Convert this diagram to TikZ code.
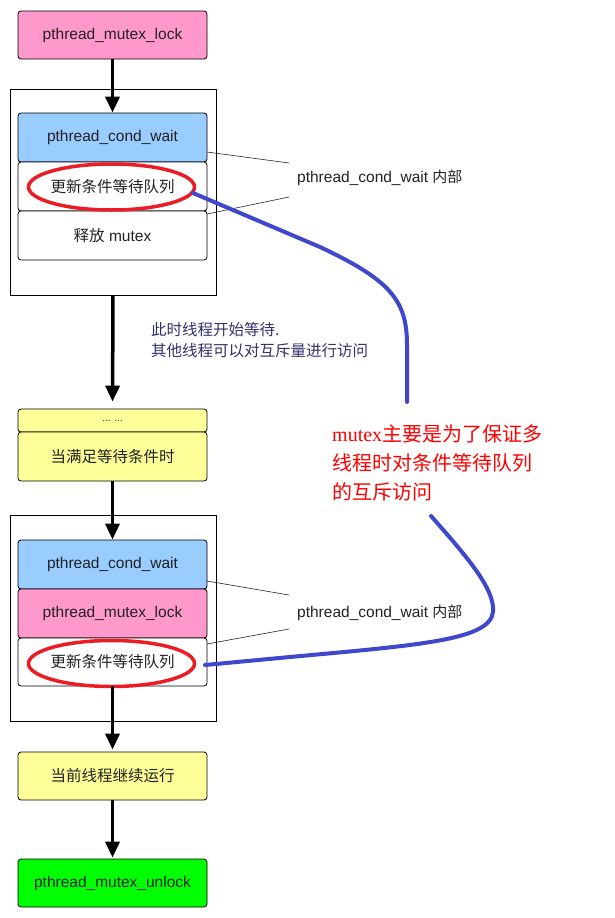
\documentclass[tikz,border=0pt]{standalone}
\usepackage{fontspec}
\setmainfont{Liberation Sans}
\newfontfamily\cjk{Noto Sans CJK SC}
\newfontfamily\serifl{Liberation Serif}
\usetikzlibrary{arrows.meta,shapes.geometric}
\definecolor{pinkc}{HTML}{FF99CC}
\definecolor{bluec}{HTML}{99CCFF}
\definecolor{yellowc}{HTML}{FFFF99}
\definecolor{greenc}{HTML}{00FF00}
\definecolor{redc}{HTML}{ED1C24}
\definecolor{linec}{HTML}{3F48CC}
\definecolor{navyc}{RGB}{50,50,110}
\definecolor{txtc}{HTML}{222222}
\begin{document}
\begin{tikzpicture}[x=1pt,y=-1pt,
  box/.style={draw=black, line width=0.8pt, rounded corners=3pt, minimum width=189pt,
    minimum height=49pt, inner sep=0pt, text=txtc, font=\fontsize{15.5}{18}\selectfont},
  frame/.style={draw=black, line width=0.8pt, minimum width=206pt, minimum height=206pt, inner sep=0pt},
  flow/.style={line width=3.5pt, -{Triangle[width=14pt,length=16pt]}},
  leader/.style={line width=0.6pt, draw=black!85},
  ring/.style={draw=redc, line width=3.5pt, ellipse, minimum width=166pt, minimum height=46pt, inner sep=0pt},
  link/.style={draw=linec, line width=4pt, line cap=round},
  zh/.style={font=\cjk\fontsize{15.5}{18}\selectfont}
]
\fill[white] (0,0) rectangle (615,918);
\useasboundingbox (0,0) rectangle (615,918);

% top
\node[box, fill=pinkc, minimum height=48pt] (lock1) at (112.5,35) {pthread\_mutex\_lock};

% frame 1
\node[frame] (outer1) at (113,192) {};
\node[box, fill=bluec] (cw1) at (112.5,137.5) {pthread\_cond\_wait};
\node[box, fill=white, zh] (upd1) at (112.5,186.5) {更新条件等待队列};
\node[box, fill=white] (rel1) at (112.5,235.5) {{\cjk\fontsize{15.5}{18}\selectfont 释放} mutex};
\node[ring] (e1) at (111.5,187) {};

% leader lines 1
\node[anchor=west, inner sep=0pt, text=txtc, font=\fontsize{15.5}{18}\selectfont] (in1) at (297,178) {pthread\_cond\_wait {\cjk\fontsize{15}{18}\selectfont 内部}};
\coordinate (a1) at (207,152);
\coordinate (b1) at (289,163);
\coordinate (a2) at (207,214);
\coordinate (b2) at (289,197);
\draw[leader] (a1) -- (b1);
\draw[leader] (a2) -- (b2);

% waiting text
\node[anchor=west, align=left, inner sep=0pt, text=navyc, font=\cjk\fontsize{15.5}{21}\selectfont] (wait) at (151,340) {此时线程开始等待.\\其他线程可以对互斥量进行访问};

% yellow
\node[box, fill=yellowc, minimum height=23pt, font=\fontsize{10}{12}\selectfont] (dots) at (112.5,420.5) {... ...};
\node[box, fill=yellowc, zh] (cond) at (112.5,456.5) {当满足等待条件时};

% frame 2
\node[frame] (outer2) at (113,618) {};
\node[box, fill=bluec] (cw2) at (112.5,564.5) {pthread\_cond\_wait};
\node[box, fill=pinkc] (lock2) at (112.5,613.5) {pthread\_mutex\_lock};
\node[box, fill=white, zh, minimum height=48pt] (upd2) at (112.5,662) {更新条件等待队列};
\node[ring] (e2) at (111.5,663.5) {};

\node[anchor=west, inner sep=0pt, text=txtc, font=\fontsize{15.5}{18}\selectfont] (in2) at (297,613) {pthread\_cond\_wait {\cjk\fontsize{15}{18}\selectfont 内部}};
\coordinate (c1) at (207,581);
\coordinate (d1) at (289,595);
\coordinate (c2) at (207,644);
\coordinate (d2) at (289,629);
\draw[leader] (c1) -- (d1);
\draw[leader] (c2) -- (d2);

% bottom
\node[box, fill=yellowc, zh, minimum height=48pt] (cont) at (112.5,776) {当前线程继续运行};
\node[box, fill=greenc, minimum height=48pt] (unlock) at (112.5,883) {pthread\_mutex\_unlock};

% flow arrows
\draw[flow] (lock1.south) -- (cw1.north);
\draw[flow, shorten >=7pt] (outer1.south) -- (dots.north);
\draw[flow] (cond.south) -- (cw2.north);
\draw[flow, shorten >=2pt] (upd2.south) -- (cont.north);
\draw[flow, shorten >=1pt] (cont.south) -- (unlock.north);

% red note
\node[anchor=west, align=left, inner sep=0pt, text=red, font=\cjk\fontsize{20}{29}\selectfont] (note) at (332,463) {{\serifl mutex}主要是为了保证多\\线程时对条件等待队列\\的互斥访问};

% blue links
\coordinate (p1) at (193,193);
\coordinate (p2) at (407,402);
\coordinate (q1) at (431,516);
\coordinate (q2) at (205,665);
\draw[link] (p1) -- (320,247) .. controls (390,280) and (407,300) .. (407,345) -- (p2);
\draw[link] (q1) .. controls (470,560) and (495,590) .. (493,612) .. controls (490,640) and (420,645) .. (290,657) -- (q2);
\end{tikzpicture}
\end{document}
